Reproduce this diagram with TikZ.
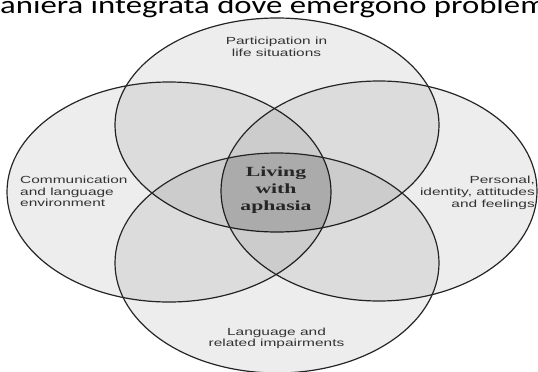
\documentclass[tikz,border=0pt]{standalone}
\usepackage{fontspec}
\setmainfont{Liberation Sans}
\newfontfamily\lblfont[FakeStretch=1.5]{Liberation Sans}
\newfontfamily\midfont[FakeStretch=1.55]{Liberation Serif}
\newfontfamily\headfont[FakeStretch=1.31]{Carlito}
\usetikzlibrary{shapes.geometric,positioning}

\begin{document}
\begin{tikzpicture}[
        x=1pt, y=-1pt,
        ring/.style = {draw=black!85, line width=1.2pt, ellipse, inner sep=0pt,
                       minimum width=324pt, minimum height=220pt,
                       fill=black, fill opacity=0.072},
        lbl/.style = {font=\lblfont\fontsize{10.3}{11.7}\selectfont, text=black!80, inner sep=0pt},
        mid/.style = {font=\midfont\bfseries\fontsize{14}{16.7}\selectfont, text=black!85,
                      align=center, inner sep=0pt},
        ]
        \useasboundingbox (0,0) rectangle (538,372);
        \clip (0,0) rectangle (538,372);
        \fill[white] (0,0) rectangle (538,372);

        % the four circles
        \node[ring, minimum height=214pt](part) at (277,125) {};
        \node[ring](comm) at (169,192) {};
        \node[ring, minimum width=316pt](pers) at (379,191) {};
        \node[ring](lang) at (277,263) {};

        % darker middle
        \begin{scope}
        \clip (part.center) ellipse [x radius=162, y radius=107];
        \clip (comm.center) ellipse [x radius=162, y radius=110];
        \clip (pers.center) ellipse [x radius=158, y radius=110];
        \fill[black, fill opacity=0.09] (lang.center) ellipse [x radius=162, y radius=110];
        \end{scope}

        \node[font=\headfont\fontsize{25}{30}\selectfont, anchor=base west, inner sep=0pt](head) at (0,13.5) {\llap{m}aniera integrata dove emergono problemi};

        \node[lbl, align=center, anchor=base](partlbl) at (276.5,56) {Participation in\\life situations};
        \node[lbl, align=left, anchor=base west](commlbl) at (20,206.7) {Communication\\and language\\environment};
        \node[lbl, align=right, anchor=base east](perslbl) at (535,207.3) {Personal,\\identity, attitudes\\and feelings};
        \node[lbl, align=center, anchor=base](langlbl) at (276.5,346.7) {Language and\\related impairments};
        \node[mid, anchor=base](core) at (276,210) {Living\\with\\aphasia};
\end{tikzpicture}
\end{document}
